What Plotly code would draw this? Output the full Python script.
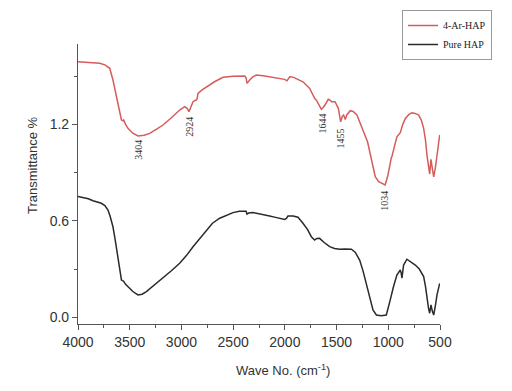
import plotly.graph_objects as go

# 4-Ar-HAP (red)
red_w = [4000, 3900, 3790, 3740, 3693, 3662, 3613, 3580, 3565, 3558, 3540, 3517, 3470, 3420, 3360, 3307, 3240, 3178, 3100, 3017,
         2968, 2945, 2927, 2910, 2888, 2865, 2856, 2848, 2840, 2800, 2759, 2680, 2598, 2500, 2388, 2375, 2366, 2355, 2340, 2310,
         2275, 2210, 2147, 2100, 2050, 2002, 1980, 1965, 1953, 1920, 1873, 1825, 1760, 1712, 1695, 1670, 1647, 1630, 1612, 1580,
         1560, 1548, 1515, 1483, 1470, 1460, 1445, 1432, 1416, 1400, 1368, 1340, 1303, 1270, 1239, 1200, 1174, 1150, 1126, 1093,
         1060, 1030, 1005, 981, 970, 965, 940, 917, 884, 860, 835, 800, 771, 740, 706, 680, 658, 640, 626, 612,
         600, 593, 587, 575, 561, 545, 529, 503]
red_t = [1.590, 1.587, 1.580, 1.570, 1.549, 1.476, 1.331, 1.227, 1.222, 1.227, 1.200, 1.175, 1.145, 1.128, 1.132, 1.144, 1.170, 1.196, 1.240, 1.289,
         1.310, 1.300, 1.279, 1.310, 1.341, 1.350, 1.351, 1.360, 1.393, 1.415, 1.434, 1.465, 1.493, 1.500, 1.501, 1.490, 1.455, 1.465, 1.476, 1.495,
         1.507, 1.503, 1.496, 1.490, 1.482, 1.480, 1.471, 1.485, 1.496, 1.494, 1.480, 1.465, 1.424, 1.362, 1.351, 1.320, 1.294, 1.305, 1.320, 1.356,
         1.350, 1.341, 1.341, 1.300, 1.260, 1.216, 1.250, 1.258, 1.231, 1.260, 1.285, 1.280, 1.258, 1.210, 1.154, 1.090, 1.020, 0.950, 0.874, 0.843,
         0.835, 0.823, 0.880, 0.978, 0.995, 0.999, 1.070, 1.123, 1.148, 1.200, 1.237, 1.262, 1.272, 1.268, 1.258, 1.225, 1.175, 1.100, 1.009, 0.950,
         0.891, 0.940, 0.983, 0.930, 0.874, 0.930, 0.999, 1.134]

# Pure HAP (black)
blk_w = [4000, 3984, 3900, 3855, 3774, 3740, 3710, 3690, 3662, 3640, 3613, 3595, 3580, 3570, 3560, 3540, 3517, 3470, 3420, 3380,
         3339, 3260, 3178, 3100, 3017, 2950, 2888, 2820, 2759, 2700, 2630, 2560, 2501, 2440, 2388, 2375, 2366, 2350, 2308, 2230,
         2147, 2100, 2050, 2002, 1985, 1970, 1920, 1873, 1825, 1780, 1744, 1712, 1690, 1664, 1620, 1567, 1520, 1470, 1420, 1357,
         1320, 1277, 1245, 1212, 1180, 1148, 1115, 1070, 1019, 1000, 981, 950, 917, 884, 875, 868, 860, 852, 820, 780,
         739, 700, 658, 640, 626, 612, 600, 593, 587, 575, 561, 545, 529, 503]
blk_t = [0.752, 0.750, 0.737, 0.725, 0.709, 0.695, 0.667, 0.630, 0.563, 0.480, 0.377, 0.300, 0.232, 0.228, 0.225, 0.205, 0.190, 0.160, 0.139, 0.143,
         0.159, 0.200, 0.243, 0.288, 0.336, 0.385, 0.439, 0.493, 0.543, 0.585, 0.616, 0.637, 0.651, 0.660, 0.663, 0.660, 0.642, 0.648, 0.651, 0.643,
         0.630, 0.623, 0.616, 0.609, 0.615, 0.630, 0.630, 0.622, 0.585, 0.545, 0.501, 0.481, 0.490, 0.491, 0.465, 0.439, 0.428, 0.423, 0.425, 0.423,
         0.405, 0.356, 0.290, 0.211, 0.120, 0.045, 0.014, 0.010, 0.014, 0.055, 0.108, 0.190, 0.263, 0.294, 0.275, 0.243, 0.290, 0.325, 0.361, 0.345,
         0.325, 0.300, 0.253, 0.190, 0.108, 0.060, 0.025, 0.050, 0.077, 0.040, 0.014, 0.070, 0.139, 0.211]

peak_labels = ["3404", "2924", "1644", "1455", "1034"]
peak_w = [3423, 2930, 1645, 1461, 1045]
peak_t = [1.040, 1.183, 1.202, 1.109, 0.723]

x_ticks = [4000, 3500, 3000, 2500, 2000, 1500, 1000, 500]
y_ticks = [0.0, 0.6, 1.2]

fig = go.Figure()
fig.add_trace(go.Scatter(x=red_w, y=red_t, mode="lines", name="4-Ar-HAP",
                         line=dict(color="#d65c5c", width=1.5)))
fig.add_trace(go.Scatter(x=blk_w, y=blk_t, mode="lines", name="Pure HAP",
                         line=dict(color="#2a2a2a", width=1.5)))

for lab, w, t in zip(peak_labels, peak_w, peak_t):
    fig.add_annotation(x=w, y=t, text=lab, textangle=-90, showarrow=False,
                       xanchor="center", yanchor="middle",
                       font=dict(family="Liberation Serif", size=10, color="#333"))

fig.add_annotation(xref="paper", yref="paper", x=(32 - 78) / 362, y=(324 - 166) / 280,
                   text="Transmittance %", textangle=-90, showarrow=False,
                   xanchor="center", yanchor="middle",
                   font=dict(family="Liberation Sans", size=13, color="#333"))
fig.add_annotation(xref="paper", yref="paper", x=(283 - 78) / 362, y=(324 - 370) / 280,
                   text="Wave No. (cm<sup>-1</sup>)", showarrow=False,
                   xanchor="center", yanchor="middle",
                   font=dict(family="Liberation Sans", size=13, color="#333"))

fig.update_layout(
    width=512, height=391,
    margin=dict(l=70, r=80, t=36, b=75, autoexpand=False),
    paper_bgcolor="white", plot_bgcolor="white",
    showlegend=True,
    legend=dict(x=(402 - 78) / 362, y=(324 - 10) / 280, xanchor="left", yanchor="top",
                bordercolor="#999", borderwidth=1, bgcolor="white",
                font=dict(family="Liberation Serif", size=10, color="#222"),
                itemwidth=30, tracegroupgap=0),
    font=dict(family="Liberation Sans", color="#333"),
)
fig.update_xaxes(range=[4000, 500], tickvals=x_ticks, ticks="outside", ticklen=5, tickcolor="#555",
                 showline=True, linecolor="#555", linewidth=1.2, showgrid=False, zeroline=False,
                 tickfont=dict(size=14, color="#333"),
                 minor=dict(dtick=250, ticks="outside", ticklen=3, tickcolor="#555"))
fig.update_yaxes(range=[-0.042, 1.70], tickvals=y_ticks, ticktext=["0.0", "0.6", "1.2"], ticks="outside",
                 ticklen=5, tickcolor="#555",
                 showline=True, linecolor="#555", linewidth=1.2, showgrid=False, zeroline=False,
                 tickfont=dict(size=14, color="#333"),
                 minor=dict(tickvals=[0.3, 0.9, 1.5], ticks="outside", ticklen=3, tickcolor="#555"))

fig.write_html("out.html")
